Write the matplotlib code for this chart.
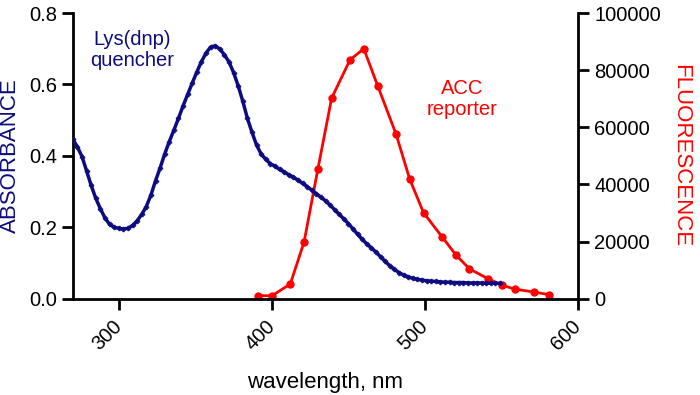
import numpy as np
import matplotlib
matplotlib.use("Agg")
import matplotlib.pyplot as plt

plt.rcParams["font.family"] = ["Liberation Sans", "DejaVu Sans"]

# absorbance of the Lys(dnp) quencher, read every 3 nm
abs_nm = list(range(270, 550, 3))
abs_val = [0.447, 0.425, 0.398, 0.358, 0.317, 0.281, 0.252, 0.226, 0.208, 0.200,
           0.197, 0.195, 0.197, 0.205, 0.218, 0.236, 0.258, 0.290, 0.330, 0.366,
           0.405, 0.440, 0.472, 0.505, 0.540, 0.572, 0.604, 0.635, 0.664, 0.688,
           0.705, 0.708, 0.699, 0.683, 0.663, 0.633, 0.596, 0.553, 0.505, 0.466,
           0.430, 0.405, 0.390, 0.378, 0.371, 0.362, 0.355, 0.347, 0.340, 0.332,
           0.323, 0.314, 0.304, 0.294, 0.284, 0.274, 0.262, 0.249, 0.236, 0.223,
           0.210, 0.195, 0.180, 0.166, 0.153, 0.142, 0.130, 0.117, 0.104, 0.092,
           0.082, 0.073, 0.066, 0.061, 0.057, 0.054, 0.052, 0.050, 0.049, 0.048,
           0.047, 0.046, 0.046, 0.045, 0.045, 0.045, 0.044, 0.044, 0.044, 0.044,
           0.043, 0.043, 0.043, 0.043]

# fluorescence of the ACC reporter
fl_nm = [391, 400, 412, 421, 430, 439, 451, 460, 469, 481,
         490, 499, 511, 520, 529, 541, 550, 559, 571, 581]
fl_val = [1050, 1000, 5100, 19800, 45300, 70200, 83600, 87500, 74600, 57700,
          41800, 30100, 21700, 15400, 10400, 7000, 4700, 3300, 2300, 1400]

x_ticks = [300, 400, 500, 600]
abs_ticks = [0.0, 0.2, 0.4, 0.6, 0.8]
fl_ticks = [0, 20000, 40000, 60000, 80000, 100000]

navy = "#0c0c80"
red = "#ff0000"

fig = plt.figure(figsize=(7, 3.95), dpi=100)
ax = fig.add_axes([0.104, 0.244, 0.722, 0.723])
ax2 = ax.twinx()

ax.plot(abs_nm, abs_val, color=navy, lw=2.5, marker="P", ms=3.5, mew=0.4, zorder=3)
ax2.plot(fl_nm, fl_val, color=red, lw=2.0, marker="o", ms=5, zorder=2)

ax.set_xlim(270, 600)
ax.set_ylim(0, 0.8)
ax2.set_ylim(0, 100000)
ax.set_zorder(ax2.get_zorder() + 1)
ax.patch.set_visible(False)

ax.set_xticks(x_ticks)
ax.set_xticklabels([str(t) for t in x_ticks], rotation=45, ha="right",
                   va="center", rotation_mode="anchor")
ax.set_yticks(abs_ticks)
ax.set_yticklabels(["%.1f" % t for t in abs_ticks])
ax2.set_yticks(fl_ticks)
ax2.set_yticklabels([str(t) for t in fl_ticks])

for a in (ax, ax2):
    a.spines["top"].set_visible(False)
    for s in a.spines.values():
        s.set_linewidth(2)
    a.tick_params(width=2, length=8, labelsize=14.5, direction="out")
ax.spines["right"].set_visible(False)
ax2.spines["left"].set_visible(False)
ax2.spines["bottom"].set_visible(False)
ax.tick_params(axis="x", pad=10)

ax.set_xlabel("wavelength, nm", fontsize=16, labelpad=13)
ax.set_ylabel("ABSORBANCE", fontsize=16, color=navy, labelpad=6)
ax2.set_ylabel("FLUORESCENCE", fontsize=16, color=red, rotation=270, labelpad=22)

ax.text(0.117, 0.87, "Lys(dnp)\nquencher", transform=ax.transAxes, color=navy,
        fontsize=14.5, ha="center", va="center", linespacing=1.15)
ax2.text(0.77, 0.70, "ACC\nreporter", transform=ax.transAxes, color=red,
         fontsize=14.5, ha="center", va="center", linespacing=1.15)

fig.savefig("out.png", dpi=100)
